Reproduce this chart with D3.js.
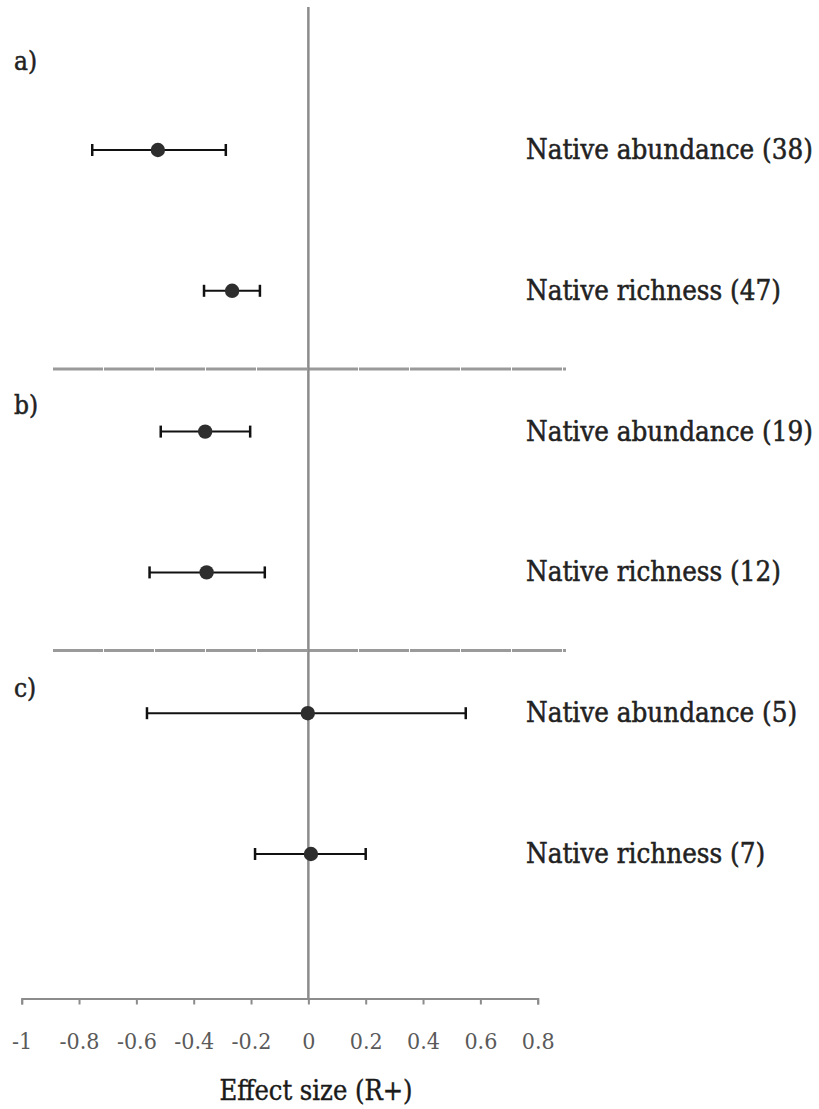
<!DOCTYPE html>
<html>
<head>
<meta charset="utf-8">
<script src="https://cdn.jsdelivr.net/npm/d3@7"></script>
<style>
  html, body { margin: 0; padding: 0; background: #fff; }
  svg { display: block; }
  .serif { font-family: 'DejaVu Serif Condensed', 'DejaVu Serif', serif; font-stretch: condensed; }
</style>
</head>
<body>
<svg id="chart" width="819" height="1109"></svg>
<script>
// Forest plot: mean effect size (R+) with 95% CI for native abundance / richness in three panels
const panels = ["a)", "b)", "c)"];
const outcomes = ["Native abundance", "Native richness"];
const studyCounts = [38, 47, 19, 12, 5, 7];
const effectMeans = [-0.525, -0.266, -0.360, -0.355, -0.002, 0.009];
const ciLower = [-0.754, -0.364, -0.515, -0.554, -0.563, -0.186];
const ciUpper = [-0.288, -0.169, -0.203, -0.152, 0.549, 0.200];
const tickValues = [-1, -0.8, -0.6, -0.4, -0.2, 0, 0.2, 0.4, 0.6, 0.8];
const tickLabels = ["-1", "-0.8", "-0.6", "-0.4", "-0.2", "0", "0.2", "0.4", "0.6", "0.8"];
const axisTitle = "Effect size (R+)";

const rows = [];
panels.forEach((p, pi) => {
  outcomes.forEach((o, oi) => {
    const i = pi * outcomes.length + oi;
    rows.push({
      key: p + o, panel: p, label: `${o} (${studyCounts[i]})`,
      mean: effectMeans[i], lo: ciLower[i], hi: ciUpper[i]
    });
  });
});

const svg = d3.select("#chart");

const x = d3.scaleLinear().domain([-1, 0.8]).range([21.7, 537.7]);
const y = d3.scalePoint().domain(rows.map(d => d.key)).range([150, 854]);
const step = y.step();
const axisY = 998.5;

// group separators
const sepY = panels.slice(0, -1).map((p, pi) => y(rows[pi * 2 + 1].key) + step * 0.555);
svg.append("g").selectAll("line").data(sepY).join("line")
  .attr("x1", 53).attr("x2", 566)
  .attr("y1", d => d).attr("y2", d => d)
  .attr("stroke", "#9a9a9a").attr("stroke-width", 3)
  .attr("stroke-dasharray", "50 1");

// zero line
svg.append("line")
  .attr("x1", x(0)).attr("x2", x(0))
  .attr("y1", 7).attr("y2", axisY)
  .attr("stroke", "#8c8c8c").attr("stroke-width", 2.5);

// x axis
const axis = d3.axisBottom(x)
  .tickValues(tickValues)
  .tickFormat((d, i) => tickLabels[i])
  .tickSize(6).tickSizeOuter(6).tickPadding(28);
const gAxis = svg.append("g").attr("transform", `translate(0,${axisY})`).call(axis);
gAxis.select(".domain").attr("stroke", "#8c8c8c").attr("stroke-width", 2);
gAxis.selectAll(".tick line").attr("stroke", "#8c8c8c").attr("stroke-width", 2);
gAxis.selectAll(".tick text")
  .attr("class", "serif")
  .attr("fill", "#5a5a5a")
  .style("font-size", "23px")
  .attr("dy", "0.71em");

svg.append("text").attr("class", "serif")
  .attr("x", 316).attr("y", 1100)
  .attr("text-anchor", "middle")
  .attr("fill", "#1a1a1a")
  .attr("stroke", "#1a1a1a").attr("stroke-width", 0.4)
  .style("font-size", "27px")
  .text(axisTitle);

// error bars
const capH = 6;
const g = svg.append("g");
const bars = g.selectAll("g.row").data(rows).join("g").attr("class", "row");
bars.append("line")
  .attr("x1", d => x(d.lo)).attr("x2", d => x(d.hi))
  .attr("y1", d => y(d.key)).attr("y2", d => y(d.key))
  .attr("stroke", "#111").attr("stroke-width", 2);
bars.append("line")
  .attr("x1", d => x(d.lo)).attr("x2", d => x(d.lo))
  .attr("y1", d => y(d.key) - capH).attr("y2", d => y(d.key) + capH)
  .attr("stroke", "#111").attr("stroke-width", 2.5);
bars.append("line")
  .attr("x1", d => x(d.hi)).attr("x2", d => x(d.hi))
  .attr("y1", d => y(d.key) - capH).attr("y2", d => y(d.key) + capH)
  .attr("stroke", "#111").attr("stroke-width", 2.5);
bars.append("circle")
  .attr("cx", d => x(d.mean)).attr("cy", d => y(d.key))
  .attr("r", 7.2).attr("fill", "#2e2e2e");

// row labels
bars.append("text").attr("class", "serif")
  .attr("x", 526).attr("y", d => y(d.key) + 9)
  .attr("fill", "#222")
  .attr("stroke", "#222").attr("stroke-width", 0.5)
  .style("font-size", "27.5px")
  .text(d => d.label);

// panel letters
const panelY = [70, sepY[0] + 45, sepY[1] + 46];
svg.append("g").selectAll("text").data(panels).join("text")
  .attr("class", "serif")
  .attr("x", 14).attr("y", (d, i) => panelY[i])
  .attr("fill", "#222")
  .attr("stroke", "#222").attr("stroke-width", 0.5)
  .style("font-size", "26px")
  .text(d => d);
</script>
</body>
</html>
